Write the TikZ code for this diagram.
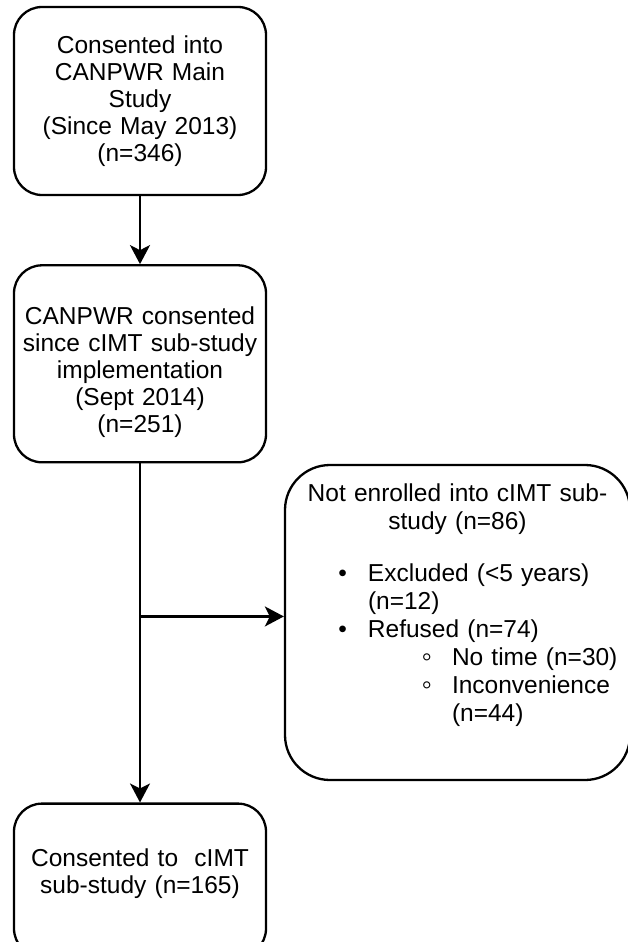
\documentclass[tikz,border=0pt]{standalone}
\usepackage{fontspec}
\setmainfont{Liberation Sans}
\usetikzlibrary{arrows.meta, positioning}

\newcommand{\flowfont}{\fontsize{24.5}{27}\selectfont}
\newcommand{\sidefont}{\fontsize{24.5}{28}\selectfont}
\newcommand{\listline}[4]{\hspace*{#1}\llap{#2\hspace{#3}}#4}
\newcommand{\subbullet}{\raisebox{-1pt}{\scalebox{1.2}{\symbol{"25E6}}}}
\newcommand{\tailspace}[1]{\par\vspace*{#1}\hrule height 0pt}

\begin{document}
\begin{tikzpicture}[
    x=1pt, y=1pt,
    node distance=68pt,
    stage/.style={rectangle, rounded corners=28pt, draw=black, line width=2.3pt, minimum width=252pt, text width=250pt, inner sep=1pt, align=center, font=\flowfont},
    sidebox/.style={rectangle, rounded corners=45pt, draw=black, line width=2.3pt, minimum width=345pt, minimum height=315pt, text width=345pt, inner sep=0pt, align=left, font=\sidefont},
    arrow/.style={-{Stealth[length=19pt, width=20pt, inset=5pt]}, line width=2.3pt}
]

\useasboundingbox (0,0) rectangle (627,-942);

% === MAIN COLUMN ===
\node (consented) [stage, minimum height=188pt] at (140,-101) {Consented into\\CANPWR Main\\Study\\(Since May 2013)\\(n=346)};

\node (substudy) [stage, minimum height=197pt, below=of consented] {CANPWR consented\\since cIMT sub-study\\implementation\\(Sept 2014)\\(n=251)\tailspace{-16pt}};

\node (cimt) [stage, minimum height=153pt, below=339pt of substudy] {Consented to\ \ cIMT\\sub-study (n=165)\tailspace{12pt}};

% === EXCLUSIONS (right branch) ===
\node (notenrolled) [sidebox] at (457.5,-622.5) {%
  {\centering Not enrolled into cIMT sub-\\study (n=86)\par}
  \vspace{24pt}
  \listline{83pt}{\textbullet}{21pt}{Excluded (<5 years)}\\
  \hspace*{83pt}(n=12)\\
  \listline{83pt}{\textbullet}{21pt}{Refused (n=74)}\\
  \listline{167pt}{\subbullet}{20pt}{No time (n=30)}\\
  \listline{167pt}{\subbullet}{20pt}{Inconvenience}\\
  \hspace*{167pt}(n=44)\tailspace{34pt}
};

\coordinate (split) at ([yshift=-153pt]substudy.south);

% === ARROWS ===
\draw [arrow] (consented) -- (substudy);
\draw [arrow] (substudy) -- (cimt);
\draw [arrow] (split) -- (split -| notenrolled.west);

\end{tikzpicture}
\end{document}
